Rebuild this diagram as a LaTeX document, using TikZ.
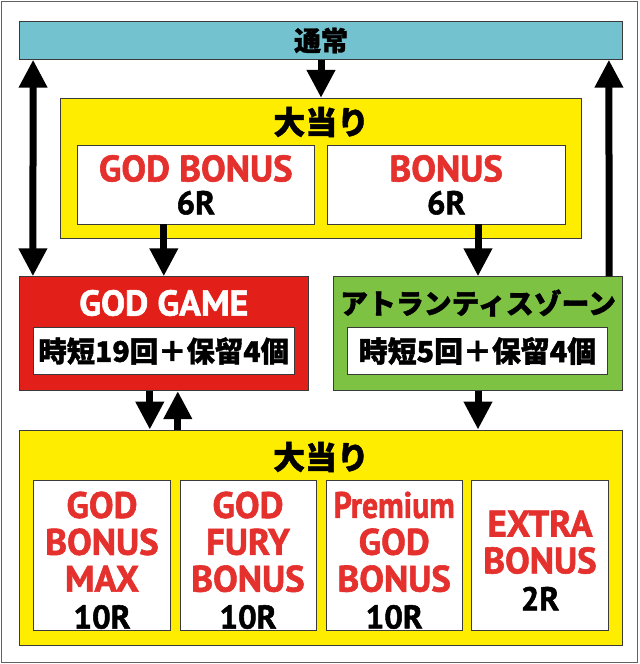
\documentclass[tikz,border=0pt]{standalone}
\usepackage{fontspec}
\usepackage{graphicx}
\setmainfont{PT Sans}[BoldFeatures={FakeBold=1.6}]
\newfontfamily\jpfont{Noto Sans CJK JP}[BoldFeatures={FakeBold=1.4}]
\usetikzlibrary{arrows.meta}

\definecolor{barcyan}{HTML}{72C3CF}
\definecolor{winyellow}{HTML}{FFED00}
\definecolor{godred}{HTML}{E31F19}
\definecolor{zonegreen}{HTML}{7DC242}
\definecolor{txtred}{HTML}{E5312E}
\definecolor{edgegray}{HTML}{3A3A3A}
\newcommand\redword[1]{\textcolor{txtred}{#1}}

\begin{document}
\begin{tikzpicture}[x=1bp, y=-1bp, line width=0.8bp,
  >={Triangle[width=27bp,length=28bp]},
  box/.style={draw=edgegray, inner sep=0pt},
  jp/.style={font=\jpfont\bfseries\fontsize{#1}{#1}\selectfont},
  lat/.style={font=\bfseries\fontsize{#1}{#1}\selectfont, align=center},
  flow/.style={line width=7bp}]

\useasboundingbox (0,0) rectangle (640,664);
\draw[edgegray!80, line width=1.2bp] (1.5,1.5) rectangle (637.7,662.7);

% Normal state
\node[box, fill=barcyan, minimum width=603bp, minimum height=37.6bp] (normal) at (321,40.5) {};
\node[jp=27] (normaltxt) at (normal) {通常};

% First jackpot
\node[box, fill=winyellow, minimum width=521bp, minimum height=140bp] (win1) at (321.2,168.3) {};
\node[jp=32] (win1txt) at (321.2,122) {大当り};
\node[box, fill=white, lat=37, minimum width=237bp, minimum height=78.3bp] (gbonus) at (195.8,184.9)
  {\redword{GOD BONUS}\\[-4bp]{\fontsize{33}{33}\selectfont 6R}};
\node[box, fill=white, lat=37, minimum width=237.7bp, minimum height=78.3bp] (bonus) at (446.2,184.9)
  {\redword{BONUS}\\[-4bp]{\fontsize{33}{33}\selectfont 6R}};

% GOD GAME and zone
\node[box, fill=godred, minimum width=289bp, minimum height=114bp] (gamered) at (163.8,333.7) {};
\node[lat=36, text=white] (gametxt) at (163.8,303) {GOD GAME};
\node[box, fill=white, jp=28.5, minimum width=260.7bp, minimum height=46.6bp] (gamest) at (163.7,351) {時短19回＋保留4個};
\node[box, fill=zonegreen, minimum width=289.4bp, minimum height=114bp] (atlantis) at (478,333.7) {};
\node[jp=28] (atltxt) at (478,303) {アトランティスゾーン};
\node[box, fill=white, jp=29, minimum width=259.6bp, minimum height=46.6bp] (atlst) at (477.5,351) {時短5回＋保留4個};

% Second jackpot
\node[box, fill=winyellow, minimum width=603.4bp, minimum height=215bp] (win2) at (321,537.5) {};
\node[jp=32] (win2txt) at (321,457) {大当り};
\node[box, fill=white, minimum width=137.4bp, minimum height=149.3bp] (bmax) at (102,555.3) {};
\node[box, fill=white, minimum width=136bp, minimum height=149.3bp] (bfury) at (248,555.3) {};
\node[box, fill=white, minimum width=136.3bp, minimum height=149.3bp] (bprem) at (394.2,555.3) {};
\node[box, fill=white, minimum width=136.6bp, minimum height=149.3bp] (bextra) at (540,555.3) {};
\node[lat=37] (maxtxt) at ([yshift=-5bp]bmax.center)
  {\redword{GOD}\\\redword{BONUS}\\\redword{MAX}\\{\fontsize{33}{33}\selectfont 10R}};
\node[lat=37] (furytxt) at ([yshift=-5bp]bfury.center)
  {\redword{GOD}\\\redword{FURY}\\\redword{BONUS}\\{\fontsize{33}{33}\selectfont 10R}};
\node[lat=37] (premtxt) at ([yshift=-5bp]bprem.center)
  {\redword{\scalebox{0.86}[1]{Premium}}\\\redword{GOD}\\\redword{BONUS}\\{\fontsize{33}{33}\selectfont 10R}};
\node[lat=37] (extratxt) at ([yshift=-5bp]bextra.center)
  {\redword{EXTRA}\\\redword{BONUS}\\{\fontsize{33}{33}\selectfont 2R}};

% Arrows
\draw[flow, ->] (normal.south) -- (normal.south |- win1.north);
\draw[flow, <->] ([xshift=14bp]normal.south west) -- ([xshift=14bp]gamered.north west);
\draw[flow, ->] ([xshift=-14bp]atlantis.north east) -- ([xshift=-14bp]normal.south east);
\draw[flow, ->] (gamered.north |- gbonus.south) -- (gamered.north);
\draw[flow, ->] (atlantis.north |- bonus.south) -- (atlantis.north);
\draw[flow, ->] ([xshift=-14bp]gamered.south) -- ([xshift=-14bp]gamered.south |- win2.north);
\draw[flow, ->] ([xshift=14bp]gamered.south |- win2.north) -- ([xshift=14bp]gamered.south);
\draw[flow, ->] (atlantis.south) -- (atlantis.south |- win2.north);

\end{tikzpicture}
\end{document}
